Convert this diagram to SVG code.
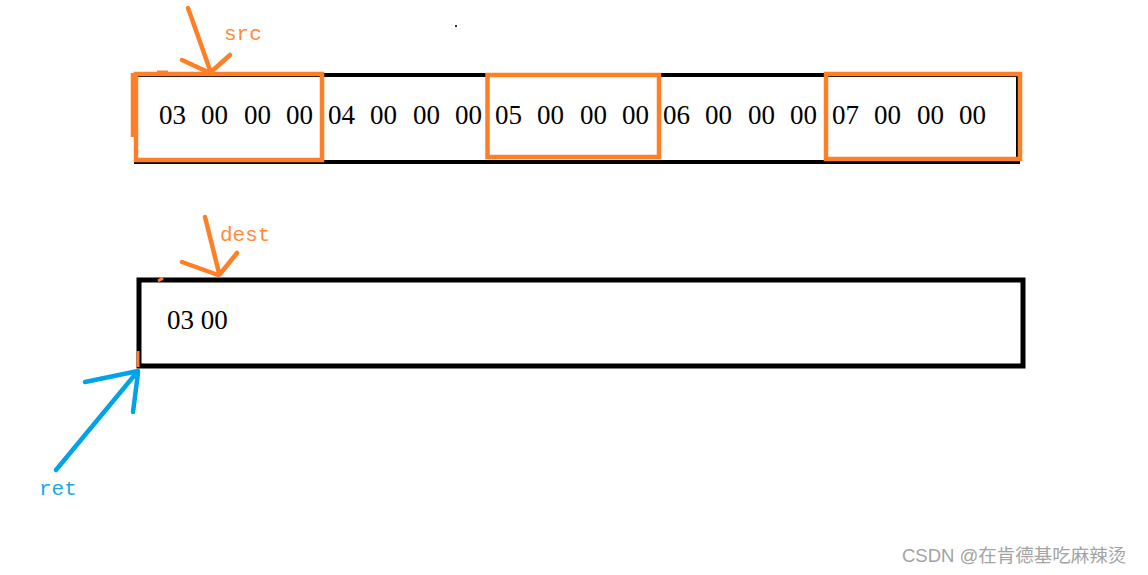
<svg xmlns="http://www.w3.org/2000/svg" width="1148" height="575" viewBox="0 0 1148 575">
<style>
.bg{fill:#ffffff}
.mem{fill:none;stroke:#000000;stroke-width:4}
.mem2{fill:none;stroke:#000000;stroke-width:5}
.hl{fill:none;stroke:#ff7f27;stroke-width:4.5}
.hex{font-family:"Liberation Serif","Times New Roman",serif;font-size:27px;fill:#000000}
.lbl{font-family:"Liberation Mono","Courier New",monospace;font-size:21px}
.org{fill:#ff8a3d}
.blu{fill:#1aa7e6}
.oa{fill:none;stroke:#ff7f27;stroke-width:4.5;stroke-linecap:round}
.ba{fill:none;stroke:#00a2e8;stroke-width:4.5;stroke-linecap:round}
.wm{font-family:"Liberation Sans","Noto Sans CJK SC",sans-serif;font-size:18.5px;fill:#a3a3a3}
</style>
<rect class="bg" x="0" y="0" width="1148" height="575"/>
<g id="src-memory">
  <rect class="mem" x="136" y="75" width="882" height="87"/>
  <g class="hex">
    <text x="159" y="124">03</text><text x="201" y="124">00</text><text x="244" y="124">00</text><text x="286" y="124">00</text>
    <text x="328" y="124">04</text><text x="370" y="124">00</text><text x="413" y="124">00</text><text x="455" y="124">00</text>
    <text x="495" y="124">05</text><text x="537" y="124">00</text><text x="580" y="124">00</text><text x="622" y="124">00</text>
    <text x="663" y="124">06</text><text x="705" y="124">00</text><text x="748" y="124">00</text><text x="790" y="124">00</text>
    <text x="832" y="124">07</text><text x="874" y="124">00</text><text x="917" y="124">00</text><text x="959" y="124">00</text>
  </g>
</g>
<g id="highlight-1">
  <rect class="hl" x="136" y="74" width="186" height="86"/>
  <line class="oa" x1="133" y1="73" x2="133" y2="137" style="stroke-linecap:butt"/>
  <line class="oa" x1="157" y1="72" x2="168" y2="72" style="stroke-linecap:butt;stroke-width:3"/>
</g>
<g id="highlight-2">
  <rect class="hl" x="487.5" y="75" width="171.5" height="82"/>
</g>
<g id="highlight-3">
  <rect class="hl" x="826" y="74" width="194" height="85"/>
</g>
<g id="dest-memory">
  <rect class="mem2" x="139" y="280" width="884" height="86"/>
  <text class="hex" x="167" y="329">03 00</text>
  <line x1="138" y1="351" x2="138" y2="367" stroke="#ff7f27" stroke-width="3"/>
  <line x1="158" y1="281" x2="163" y2="278" stroke="#ff7f27" stroke-width="3"/>
</g>
<g id="label-src">
  <text class="lbl org" x="224" y="40">src</text>
</g>
<g id="label-dest">
  <text class="lbl org" x="220" y="241">dest</text>
</g>
<g id="label-ret">
  <text class="lbl blu" x="39" y="495">ret</text>
</g>
<g id="connectors">
  <path class="oa" d="M188 8 L210 70 M182 60 L208 72 M230 55 L212 71"/>
  <path class="oa" d="M205 217 L219 273 M182 262 L218 275 M237 253 L220 274"/>
  <path class="ba" d="M56 470 L138 371 M85 382 L138 371 M133 412 L138 373"/>
</g>
<rect x="455" y="25" width="2" height="2" fill="#333333"/>
<text class="wm" x="902" y="562">CSDN @在肯德基吃麻辣烫</text>
</svg>
